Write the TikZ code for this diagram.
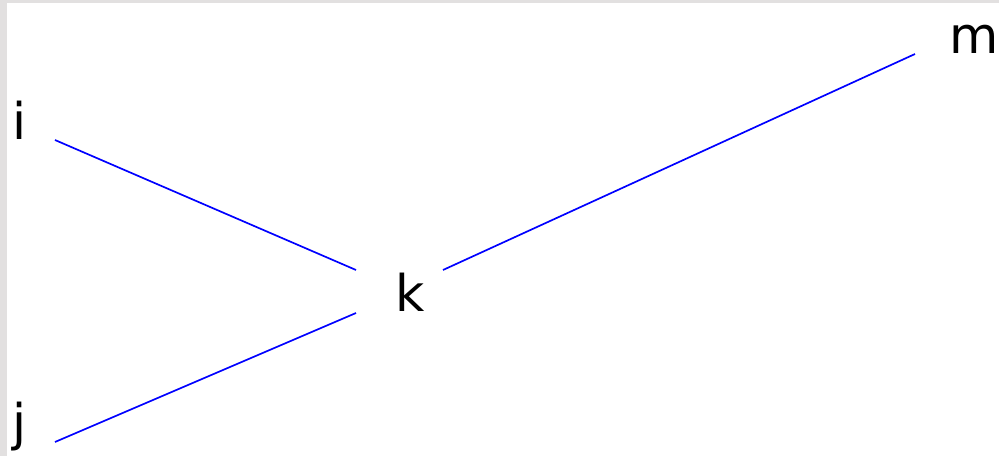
\documentclass[tikz,border=0pt]{standalone}
\usepackage{fontspec}
\setmainfont{DejaVu Sans}
\usepackage{xcolor}
\usepackage{tikz}
\definecolor{azul}{RGB}{0,0,255}
\definecolor{borde}{RGB}{226,224,224}

\begin{document}
\begin{tikzpicture}[lbl/.style={anchor=base,inner sep=0pt,font=\fontsize{36}{36}\selectfont},
enlace/.style={draw=azul,line width=1.2pt}]
\useasboundingbox (0,0) rectangle (24.975,11.4);
\fill[borde] (0,0) rectangle (0.18,11.4);
\fill[borde] (0,11.32) rectangle (24.975,11.4);
\node[lbl] (i) at (0.5,7.9) {i};
\node[lbl] (j) at (0.5,0.4) {j};
\node[lbl] (k) at (10.25,3.6) {k};
\node[lbl,anchor=base west] (m) at (23.72,10.05) {m};
\coordinate (ia) at (1.375,7.9);
\coordinate (ib) at (8.9,4.65);
\coordinate (ja) at (1.375,0.35);
\coordinate (jb) at (8.9,3.575);
\coordinate (ma) at (11.075,4.65);
\coordinate (mb) at (22.875,10.05);
\draw[enlace] (ia) -- (ib);
\draw[enlace] (ja) -- (jb);
\draw[enlace] (ma) -- (mb);
\end{tikzpicture}
\end{document}
